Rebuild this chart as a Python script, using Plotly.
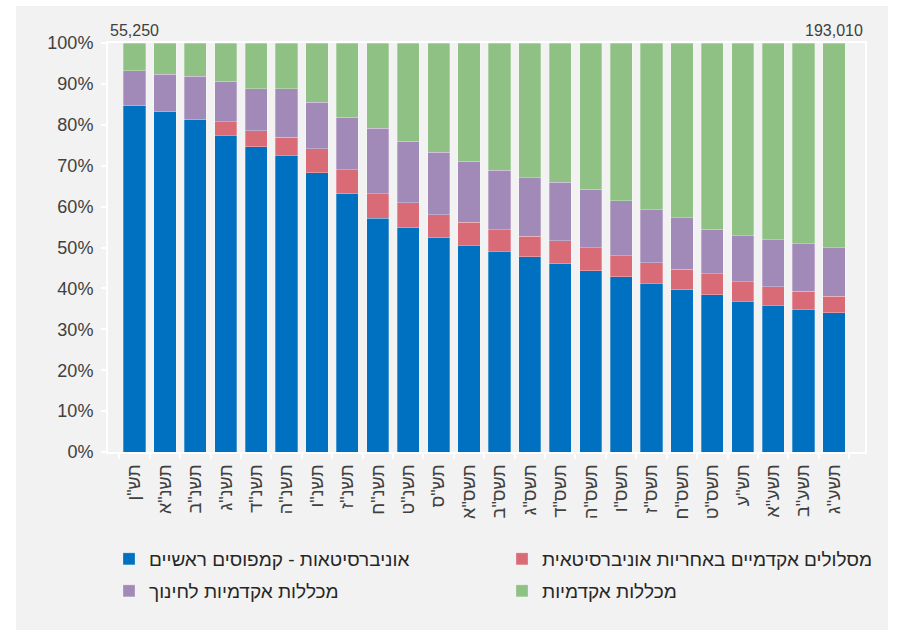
import plotly.graph_objects as go

categories = ['תש"ן', 'תשנ"א', 'תשנ"ב', 'תשנ"ג', 'תשנ"ד', 'תשנ"ה', 'תשנ"ו', 'תשנ"ז',
              'תשנ"ח', 'תשנ"ט', 'תש"ס', 'תשס"א', 'תשס"ב', 'תשס"ג', 'תשס"ד', 'תשס"ה',
              'תשס"ו', 'תשס"ז', 'תשס"ח', 'תשס"ט', 'תש"ע', 'תשע"א', 'תשע"ב', 'תשע"ג']

universities = [84.6, 83.2, 81.2, 77.5, 74.6, 72.5, 68.3, 63.1, 57.1, 54.8, 52.4, 50.6,
                49.1, 47.7, 46.0, 44.3, 42.8, 41.2, 39.7, 38.4, 36.8, 35.9, 34.9, 34.1]
uni_tracks = [0.0, 0.0, 0.0, 3.2, 4.0, 4.5, 5.8, 5.9, 6.1, 6.2, 5.6, 5.6,
              5.3, 5.1, 5.6, 5.7, 5.2, 5.1, 5.0, 5.2, 4.8, 4.5, 4.4, 4.0]
edu_colleges = [8.6, 9.1, 10.7, 10.0, 10.2, 11.8, 11.4, 12.9, 15.9, 15.0, 15.3, 14.9,
                14.5, 14.3, 14.3, 14.3, 13.4, 12.9, 12.6, 10.9, 11.3, 11.5, 11.6, 11.9]
colleges = [6.8, 7.7, 8.1, 9.3, 11.2, 11.2, 14.5, 18.1, 20.9, 24.0, 26.7, 28.9,
            31.1, 32.9, 34.1, 35.7, 38.6, 40.8, 42.7, 45.5, 47.1, 48.1, 49.1, 50.0]

totals_labels = ["55,250", "193,010"]

series_names = ["אוניברסיטאות - קמפוסים ראשיים",
                "מסלולים אקדמיים באחריות אוניברסיטאית",
                "מכללות אקדמיות לחינוך",
                "מכללות אקדמיות"]
series_values = [universities, uni_tracks, edu_colleges, colleges]
series_colors = ["#0070C0", "#D96B76", "#A18AB8", "#8EC183"]

FONT = "Arial, Liberation Sans, sans-serif"
TXT = "#404040"

W, H = 902, 630
L, R, T, B = 108, 37, 43, 178
pw, ph = W - L - R, H - T - B


def px_x(x):
    return (x - L) / pw


def px_y(y):
    return (H - B - y) / ph


# legend slots (pixel positions of each item: left edge, vertical centre)
legend_ids = ["legend", "legend2", "legend3", "legend4"]
legend_pos = [(109, 559), (502, 559), (109, 591), (502, 591)]

fig = go.Figure()
for name, vals, color, lg in zip(series_names, series_values, series_colors, legend_ids):
    fig.add_trace(go.Bar(
        x=categories, y=vals, name=name, legend=lg,
        marker=dict(color=color, line=dict(color="rgba(255,255,255,0.35)", width=0.8)),
        hoverinfo="skip",
    ))

fig.add_shape(type="rect", xref="paper", yref="paper",
              x0=px_x(16), x1=px_x(888), y0=px_y(640), y1=px_y(6),
              fillcolor="#F2F2F2", line=dict(width=0), layer="below")

fig.add_annotation(x=categories[0], y=100, yref="y", text=totals_labels[0], showarrow=False,
                   yanchor="bottom", yshift=2, font=dict(size=16, color=TXT, family=FONT))
fig.add_annotation(x=categories[-1], y=100, yref="y", text=totals_labels[1], showarrow=False,
                   yanchor="bottom", yshift=2, font=dict(size=16, color=TXT, family=FONT))

legend_layout = {}
for lg, (lx, ly) in zip(legend_ids, legend_pos):
    legend_layout[lg] = dict(orientation="h", x=px_x(lx), xanchor="left",
                             y=px_y(ly), yanchor="middle", bgcolor="rgba(0,0,0,0)",
                             font=dict(size=19, color="#262626", family=FONT))

fig.update_layout(
    width=W, height=H,
    barmode="stack", bargap=0.27,
    paper_bgcolor="white", plot_bgcolor="rgba(0,0,0,0)",
    margin=dict(l=L, r=R, t=T, b=B, autoexpand=False),
    font=dict(family=FONT, color=TXT),
    xaxis=dict(
        tickangle=-90, tickfont=dict(size=18, color=TXT, family=FONT),
        showline=True, linecolor="white", linewidth=2, mirror=True,
        ticks="outside", tickson="boundaries", tickcolor="white", ticklen=5, tickwidth=2,
        ticklabelstandoff=3,
        showgrid=False, fixedrange=True,
    ),
    yaxis=dict(
        range=[0, 100], dtick=10, ticksuffix="%",
        tickfont=dict(size=18, color=TXT, family=FONT),
        showline=True, linecolor="white", linewidth=2, mirror=True,
        ticks="outside", tickcolor="white", ticklen=5, tickwidth=2,
        ticklabelstandoff=4,
        showgrid=False, zeroline=False, fixedrange=True,
    ),
    showlegend=True,
    **legend_layout,
)

fig.write_html("out.html",
               config={"displayModeBar": False},
               post_script="document.body.style.margin='0';document.body.style.overflow='hidden';")
